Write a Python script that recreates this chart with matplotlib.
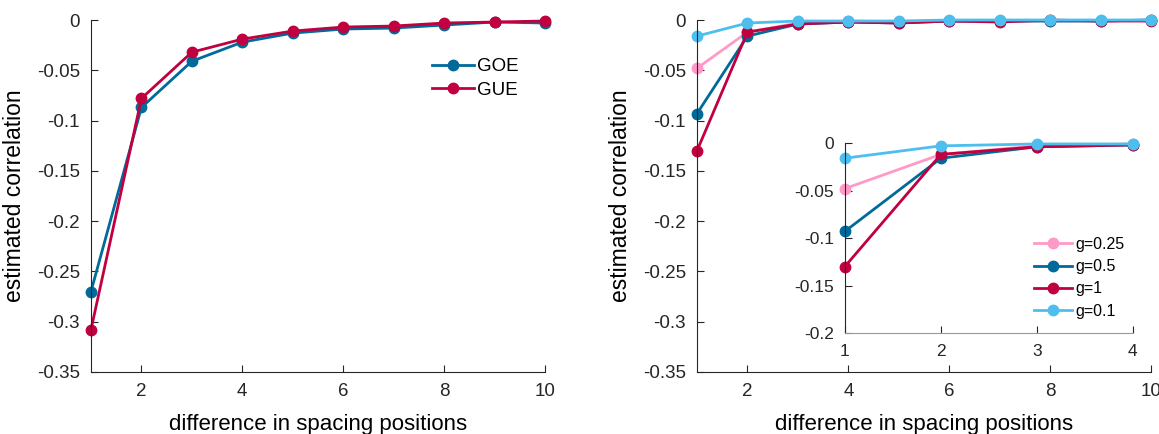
import numpy as np
import matplotlib
matplotlib.use("Agg")
import matplotlib.pyplot as plt

plt.rcParams['font.family'] = ['Liberation Sans', 'DejaVu Sans']

# data
k = np.arange(1, 11)
goe = [-0.270, -0.087, -0.041, -0.022, -0.013, -0.009, -0.008, -0.005, -0.002, -0.003]
gue = [-0.308, -0.078, -0.032, -0.019, -0.011, -0.007, -0.006, -0.003, -0.002, -0.001]

g_labels = ['g=0.25', 'g=0.5', 'g=1', 'g=0.1']
g025 = [-0.048, -0.012, -0.003, -0.001, -0.002, -0.001, -0.001, -0.001, -0.001, 0.000]
g05 = [-0.093, -0.016, -0.004, -0.002, -0.003, -0.001, -0.001, -0.001, -0.001, 0.000]
g1 = [-0.130, -0.012, -0.004, -0.002, -0.003, -0.001, -0.002, 0.000, -0.001, -0.001]
g01 = [-0.016, -0.003, -0.001, -0.001, -0.001, 0.000, 0.000, 0.000, 0.000, 0.000]

blue = '#006A9A'
red = '#C0003F'
pink = '#FF99C8'
light = '#4DBEEE'
g_colors = [pink, blue, red, light]
g_series = [g025, g05, g1, g01]

fig = plt.figure(figsize=(11.59, 4.34), dpi=100)

def style(ax, fs=13.5):
    for s in ['top', 'right']:
        ax.spines[s].set_visible(False)
    for s in ['left', 'bottom']:
        ax.spines[s].set_color('#262626')
        ax.spines[s].set_linewidth(0.8)
    ax.tick_params(direction='in', length=5, width=0.8, colors='#262626',
                   labelsize=fs, pad=8)

kw = dict(marker='o', markersize=7.5, linewidth=2, clip_on=False)
yt = [-0.35, -0.3, -0.25, -0.2, -0.15, -0.1, -0.05, 0]
ytl = ['-0.35', '-0.3', '-0.25', '-0.2', '-0.15', '-0.1', '-0.05', '0']

# left panel
ax1 = fig.add_axes([0.0785, 0.1429, 0.3917, 0.811])
ax1.plot(k, goe, color=blue, label='GOE', **kw)
ax1.plot(k, gue, color=red, label='GUE', **kw)
ax1.set_xlim(1, 10)
ax1.set_ylim(-0.35, 0)
ax1.set_xticks([2, 4, 6, 8, 10])
ax1.set_yticks(yt)
ax1.set_yticklabels(ytl)
ax1.set_xlabel('difference in spacing positions', fontsize=16, labelpad=10)
ax1.set_ylabel('estimated correlation', fontsize=16.5, labelpad=8)
style(ax1)
ax1.legend(loc='upper right', bbox_to_anchor=(0.98, 0.94), frameon=False,
           fontsize=13.5, handlelength=2.2, handletextpad=0.2, labelspacing=0.35)

# right panel
ax2 = fig.add_axes([0.6014, 0.1429, 0.3917, 0.811])
for ys, c, lab in zip(g_series, g_colors, g_labels):
    ax2.plot(k, ys, color=c, label=lab, **kw)
ax2.set_xlim(1, 10)
ax2.set_ylim(-0.35, 0)
ax2.set_xticks([2, 4, 6, 8, 10])
ax2.set_yticks(yt)
ax2.set_yticklabels(ytl)
ax2.set_xlabel('difference in spacing positions', fontsize=16, labelpad=10)
ax2.set_ylabel('estimated correlation', fontsize=16.5, labelpad=8)
style(ax2)

# inset
ax3 = fig.add_axes([0.729, 0.2327, 0.2485, 0.4378])
for ys, c, lab in zip(g_series, g_colors, g_labels):
    ax3.plot(k[:4], ys[:4], color=c, label=lab, **kw)
ax3.set_xlim(1, 4)
ax3.set_ylim(-0.2, 0)
ax3.set_xticks([1, 2, 3, 4])
ax3.set_yticks([-0.2, -0.15, -0.1, -0.05, 0])
ax3.set_yticklabels(['-0.2', '-0.15', '-0.1', '-0.05', '0'])
style(ax3, fs=12.5)
ax3.spines['bottom'].set_color('#999999')
ax3.legend(loc='lower right', bbox_to_anchor=(1.02, 0.0), frameon=False,
           fontsize=11.5, handlelength=2.4, handletextpad=0.2, labelspacing=0.45)

fig.savefig('out.png', dpi=100)
